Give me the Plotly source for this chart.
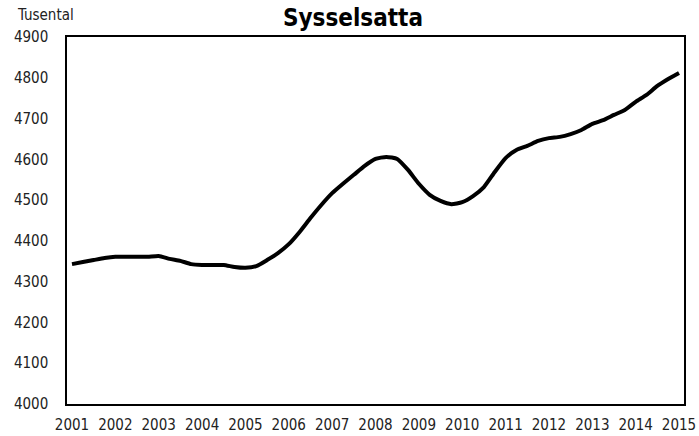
import plotly.graph_objects as go

# kvartalsdata 2001 - 2015 (tusental)
years = [2001 + q * 0.25 for q in range(57)]
sysselsatta = [
    4343, 4348, 4353, 4358, 4361, 4361, 4361, 4361,
    4363, 4356, 4351, 4343, 4341, 4341, 4341, 4336,
    4334, 4338, 4353, 4370, 4392, 4422, 4456, 4488,
    4517, 4540, 4562, 4584, 4601, 4606, 4601, 4574,
    4540, 4513, 4498, 4490, 4495, 4510, 4532, 4569,
    4603, 4623, 4633, 4645, 4652, 4655, 4662, 4672,
    4687, 4696, 4709, 4721, 4741, 4758, 4780, 4797,
    4812,
]
tick_years = list(range(2001, 2016))
tick_labels = [str(y) for y in tick_years]
y_ticks = list(range(4000, 4901, 100))

font_narrow = "Liberation Sans Narrow, DejaVu Sans Condensed, sans-serif"

fig = go.Figure(data=[
    go.Scatter(
        x=years,
        y=sysselsatta,
        mode='lines',
        line=dict(color='black', width=4, shape='spline', smoothing=0.5),
        showlegend=False,
        hoverinfo='skip',
    )
])

fig.update_layout(
    width=699,
    height=436,
    plot_bgcolor='white',
    paper_bgcolor='white',
    margin=dict(l=67, r=15, t=37, b=32),
    font=dict(family=font_narrow, size=15, color='#222222'),
    title=dict(
        text='<b>Sysselsatta</b>',
        x=0.505,
        xanchor='center',
        y=0.96,
        yanchor='middle',
        font=dict(family=font_narrow, size=24, color='black'),
    ),
    xaxis=dict(
        range=[2000.885, 2015.115],
        tickvals=tick_years,
        ticktext=tick_labels,
        showgrid=False,
        showline=True,
        linecolor='black',
        linewidth=1.5,
        mirror=True,
        ticks='',
        ticklabelstandoff=6,
        zeroline=False,
        automargin=False,
    ),
    yaxis=dict(
        range=[4000, 4900],
        tickvals=y_ticks,
        showgrid=False,
        showline=True,
        linecolor='black',
        linewidth=1.5,
        mirror=True,
        ticks='',
        ticklabelstandoff=14,
        zeroline=False,
        automargin=False,
    ),
    annotations=[
        dict(
            text='Tusental',
            x=-0.084, y=1.06,
            xref='paper', yref='paper',
            xanchor='left', yanchor='middle',
            showarrow=False,
            font=dict(family=font_narrow, size=15, color='#222222'),
        )
    ],
)

# ta bort body-marginalen så figuren ligger i hörnet
fig.write_html(
    "out.html",
    config={'displayModeBar': False},
    post_script="document.body.style.margin='0';",
)
